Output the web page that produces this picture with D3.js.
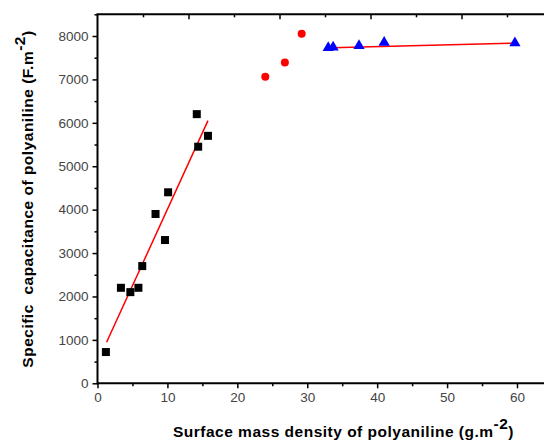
<!DOCTYPE html>
<html><head><meta charset="utf-8">
<script src="https://cdn.jsdelivr.net/npm/d3@7"></script>
<style>body{margin:0;background:#fff}svg{display:block}</style>
</head><body>
<script>
// Data
const sqX = [1.2, 3.35, 4.7, 5.85, 6.4, 8.3, 9.65, 10.1, 14.2, 14.4, 15.8];
const sqY = [720, 2200, 2100, 2200, 2700, 3900, 3300, 4400, 6200, 5450, 5700];
const dotX = [24.0, 26.8, 29.2];
const dotY = [7060, 7390, 8050];
const triX = [33.0, 33.7, 37.4, 41.0, 59.7];
const triY = [7730, 7740, 7775, 7850, 7840];
const fit1X = [1.3, 15.8];
const fit1Y = [945, 6050];
const fit2X = [33.5, 59.7];
const fit2Y = [7730, 7835];
const xTicks = [0, 10, 20, 30, 40, 50, 60];
const yTicks = [0, 1000, 2000, 3000, 4000, 5000, 6000, 7000, 8000];

const W = 544, H = 442;
const svg = d3.select("body").append("svg").attr("width", W).attr("height", H);
const x = d3.scaleLinear().domain([0, 60]).range([97.5, 517]);
const y = d3.scaleLinear().domain([0, 8500]).range([383.3, 14.3]);
const xTop = d3.scaleLinear().domain([0, (544 - 97.5) / 45.5]).range([97.5, 544]);

const font = "'Liberation Sans', Arial, sans-serif";

// bottom axis
const xAxis = d3.axisBottom(x).tickValues(xTicks).tickSize(5).tickPadding(4).tickFormat(d3.format("d"));
const gx = svg.append("g").attr("transform", "translate(0,383.3)").call(xAxis);
gx.select(".domain").remove();
gx.append("line").attr("x1", 97.5).attr("x2", 544).attr("stroke", "#000").attr("stroke-width", 2);
const xMinor = d3.axisBottom(x).tickValues(xTicks.slice(0, -1).map(d => d + 5)).tickSize(3).tickFormat("");
const gxm = svg.append("g").attr("transform", "translate(0,383.3)").call(xMinor);
gxm.select(".domain").remove();

// left axis
const yAxis = d3.axisLeft(y).tickValues(yTicks).tickSize(5).tickPadding(4).tickFormat(d3.format("d"));
const gy = svg.append("g").attr("transform", "translate(97.5,0)").call(yAxis);
gy.select(".domain").remove();
gy.append("line").attr("y1", 14.3).attr("y2", 384.3).attr("stroke", "#000").attr("stroke-width", 2);
const yMinor = d3.axisLeft(y).tickValues(yTicks.map(d => d + 500)).tickSize(3).tickFormat("");
const gym = svg.append("g").attr("transform", "translate(97.5,0)").call(yMinor);
gym.select(".domain").remove();

// top axis (inward ticks, no labels)
const topMajor = d3.axisBottom(xTop).tickValues([2, 4, 6, 8]).tickSize(5).tickFormat("");
const gt = svg.append("g").attr("transform", "translate(0,14.3)").call(topMajor);
gt.select(".domain").remove();
const topMinor = d3.axisBottom(xTop).tickValues([1, 3, 5, 7, 9]).tickSize(3).tickFormat("");
const gtm = svg.append("g").attr("transform", "translate(0,14.3)").call(topMinor);
gtm.select(".domain").remove();
svg.append("line").attr("x1", 96.5).attr("x2", 544).attr("y1", 14.3).attr("y2", 14.3).attr("stroke", "#000").attr("stroke-width", 2);

svg.selectAll(".tick line").attr("stroke", "#000").attr("stroke-width", 1.5);
svg.selectAll(".tick text").attr("font-family", font).attr("font-size", 13.5).attr("fill", "#444");

// fit lines
const line = d3.line().x(d => x(d[0])).y(d => y(d[1]));
svg.append("path").datum(d3.zip(fit1X, fit1Y)).attr("d", line).attr("stroke", "#ff0000").attr("stroke-width", 1.5).attr("fill", "none");
svg.append("path").datum(d3.zip(fit2X, fit2Y)).attr("d", line).attr("stroke", "#ff0000").attr("stroke-width", 1.5).attr("fill", "none");

// squares
const s = 8;
svg.selectAll(".sq").data(d3.zip(sqX, sqY)).join("rect")
  .attr("x", d => x(d[0]) - s / 2).attr("y", d => y(d[1]) - s / 2)
  .attr("width", s).attr("height", s).attr("fill", "#000");
// circles
svg.selectAll(".dot").data(d3.zip(dotX, dotY)).join("circle")
  .attr("cx", d => x(d[0])).attr("cy", d => y(d[1])).attr("r", 4).attr("fill", "#ff0000");
// triangles
const tri = d3.symbol().type(d3.symbolTriangle).size(55);
svg.selectAll(".tri").data(d3.zip(triX, triY)).join("path")
  .attr("d", tri).attr("transform", d => `translate(${x(d[0])},${y(d[1])})`).attr("fill", "#0000ff");

// axis titles
const fs = 15.5, ls = 0.5;
const xt = svg.append("text").attr("x", 343.5).attr("y", 437).attr("text-anchor", "middle")
  .attr("font-family", font).attr("font-weight", "bold").attr("font-size", fs).attr("letter-spacing", ls).attr("fill", "#000");
xt.append("tspan").text("Surface mass density of polyaniline (g.m");
xt.append("tspan").attr("dy", -8).text("-2");
xt.append("tspan").attr("dy", 8).text(")");

const yt = svg.append("text").attr("transform", "translate(33,199) rotate(-90)").attr("text-anchor", "middle")
  .attr("font-family", font).attr("font-weight", "bold").attr("font-size", fs).attr("letter-spacing", ls).attr("fill", "#000")
  .attr("xml:space", "preserve").style("white-space", "pre");
yt.append("tspan").text("Specific  capacitance of polyaniline (F.m");
yt.append("tspan").attr("dy", -8).text("-2");
yt.append("tspan").attr("dy", 8).text(")");
</script>
</body></html>
